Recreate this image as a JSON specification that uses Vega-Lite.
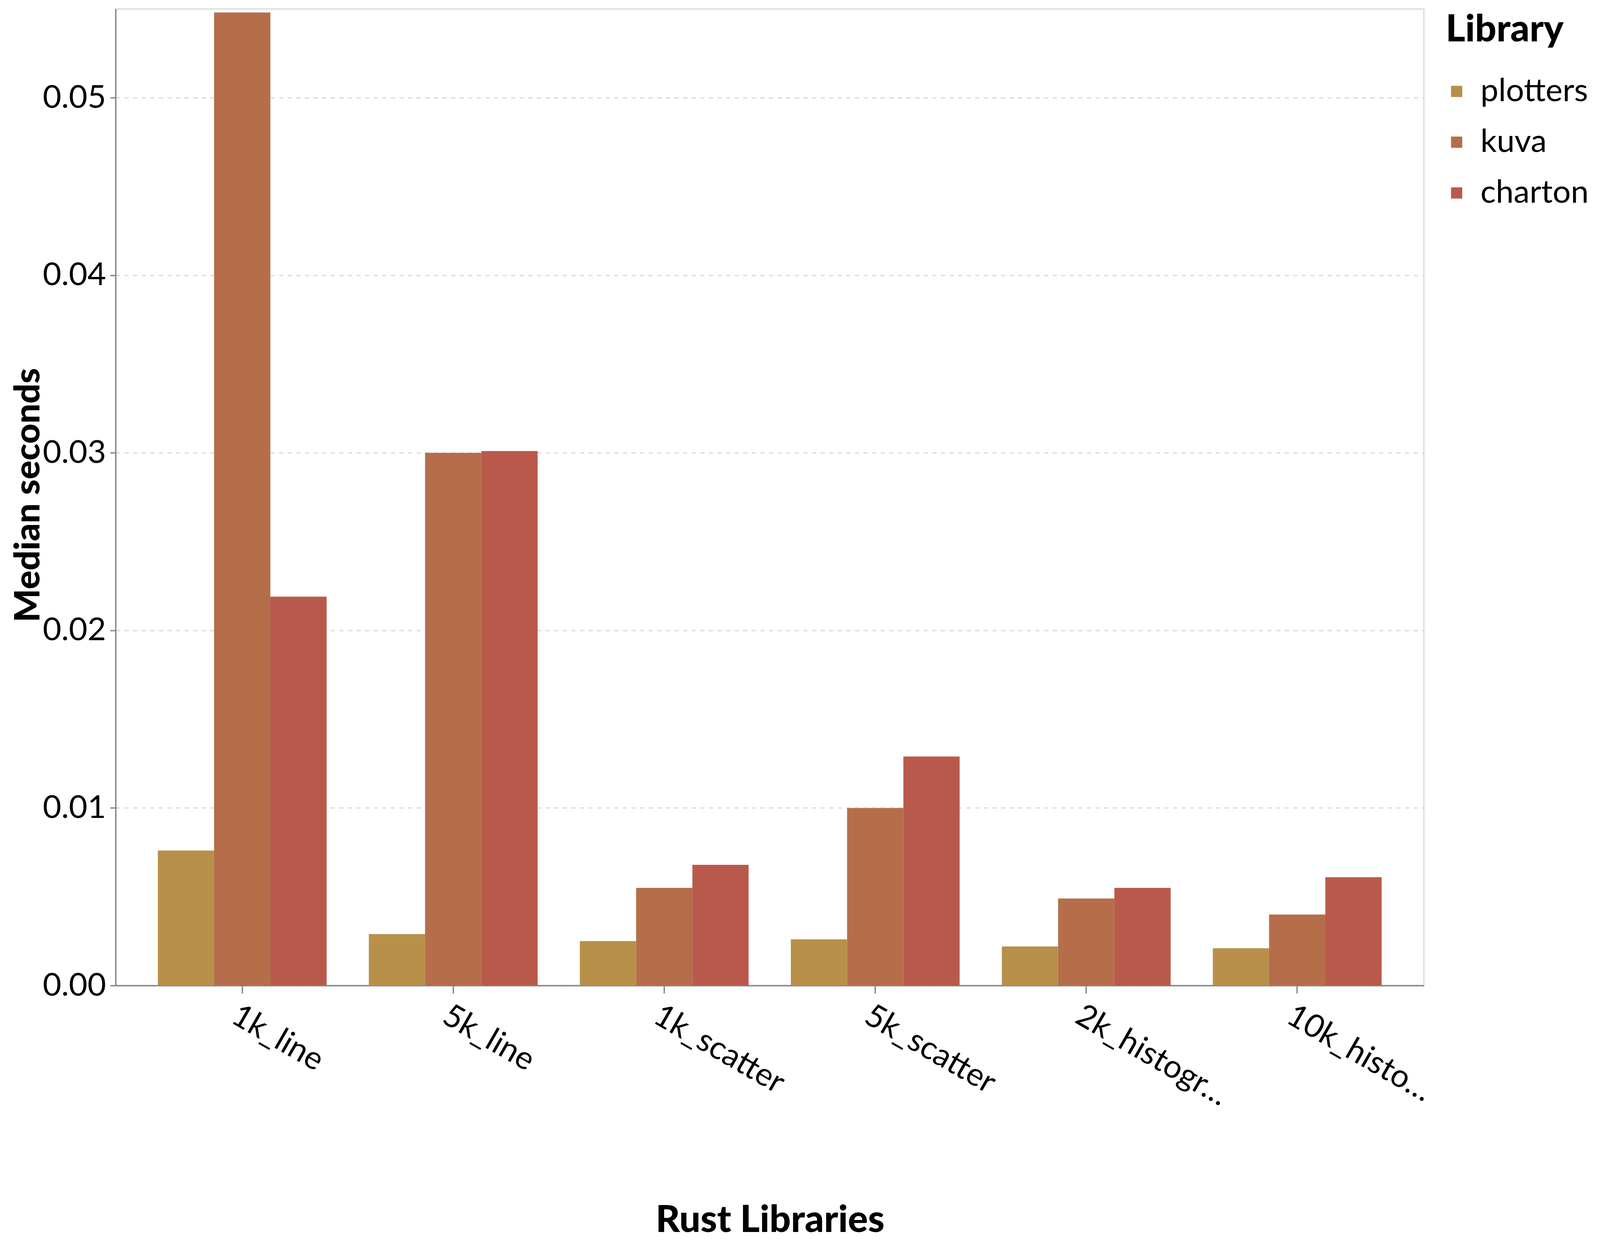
{
  "$schema": "https://vega.github.io/schema/vega-lite/v6.json",
  "autosize": {"type": "none"},
  "padding": {"left": 296, "top": 23, "right": 451, "bottom": 672},
  "width": 3349,
  "height": 2500,
  "background": "white",
  "data": {
    "values": [
      {"benchmark": "1k_line", "library": "plotters", "seconds": 0.0076},
      {"benchmark": "1k_line", "library": "kuva", "seconds": 0.0548},
      {"benchmark": "1k_line", "library": "charton", "seconds": 0.0219},
      {"benchmark": "5k_line", "library": "plotters", "seconds": 0.0029},
      {"benchmark": "5k_line", "library": "kuva", "seconds": 0.0300},
      {"benchmark": "5k_line", "library": "charton", "seconds": 0.0301},
      {"benchmark": "1k_scatter", "library": "plotters", "seconds": 0.0025},
      {"benchmark": "1k_scatter", "library": "kuva", "seconds": 0.0055},
      {"benchmark": "1k_scatter", "library": "charton", "seconds": 0.0068},
      {"benchmark": "5k_scatter", "library": "plotters", "seconds": 0.0026},
      {"benchmark": "5k_scatter", "library": "kuva", "seconds": 0.0100},
      {"benchmark": "5k_scatter", "library": "charton", "seconds": 0.0129},
      {"benchmark": "2k_histogram", "library": "plotters", "seconds": 0.0022},
      {"benchmark": "2k_histogram", "library": "kuva", "seconds": 0.0049},
      {"benchmark": "2k_histogram", "library": "charton", "seconds": 0.0055},
      {"benchmark": "10k_histogram", "library": "plotters", "seconds": 0.0021},
      {"benchmark": "10k_histogram", "library": "kuva", "seconds": 0.0040},
      {"benchmark": "10k_histogram", "library": "charton", "seconds": 0.0061}
    ]
  },
  "mark": {"type": "bar"},
  "encoding": {
    "x": {
      "field": "benchmark",
      "type": "nominal",
      "sort": ["1k_line", "5k_line", "1k_scatter", "5k_scatter", "2k_histogram", "10k_histogram"],
      "title": "Rust Libraries",
      "scale": {"paddingInner": 0.2, "paddingOuter": 0.2},
      "axis": {
        "labelAngle": 30,
        "labelAlign": "left",
        "labelBaseline": "top",
        "labelLimit": 2000,
        "labelPadding": 16,
        "tickSize": 20,
        "labelExpr": "datum.label == '2k_histogram' ? '2k_histogr…' : datum.label == '10k_histogram' ? '10k_histo…' : datum.label",
        "titleFontSize": 96,
        "titleX": 1675,
        "titleY": 630,
        "titleAlign": "center",
        "titleBaseline": "alphabetic",
        "grid": false
      }
    },
    "xOffset": {
      "field": "library",
      "type": "nominal",
      "sort": ["plotters", "kuva", "charton"],
      "scale": {"paddingInner": 0, "paddingOuter": 0}
    },
    "y": {
      "field": "seconds",
      "type": "quantitative",
      "title": "Median seconds",
      "scale": {"domain": [0, 0.055], "nice": false},
      "axis": {
        "values": [0, 0.01, 0.02, 0.03, 0.04, 0.05],
        "format": ".2f",
        "labelLimit": 2000,
        "labelPadding": 11,
        "tickSize": 14,
        "titleFontSize": 90,
        "titleX": -196,
        "titleY": 1244,
        "titleAngle": -90,
        "titleAlign": "center",
        "titleBaseline": "alphabetic",
        "grid": true
      }
    },
    "color": {
      "field": "library",
      "type": "nominal",
      "sort": ["plotters", "kuva", "charton"],
      "scale": {"domain": ["plotters", "kuva", "charton"], "range": ["#b8904a", "#b66d4a", "#b9594b"]},
      "legend": {"title": "Library", "orient": "none", "legendX": 3405, "legendY": 7}
    }
  },
  "config": {
    "font": "Lato",
    "view": {"stroke": "#dddddd", "strokeWidth": 3.5},
    "axis": {
      "labelFont": "Lato",
      "labelFontSize": 82,
      "labelColor": "#000000",
      "titleFont": "Lato",
      "titleFontWeight": 900,
      "titleColor": "#000000",
      "domainColor": "#888888",
      "domainWidth": 3.5,
      "tickColor": "#888888",
      "tickWidth": 3.5,
      "gridColor": "#e0e0e0",
      "gridDash": [11, 11],
      "gridWidth": 4
    },
    "legend": {
      "titleFont": "Lato",
      "titleFontSize": 96,
      "titleFontWeight": 900,
      "titleColor": "#000000",
      "titleBaseline": "top",
      "titleLimit": 1000,
      "labelFont": "Lato",
      "labelFontSize": 82,
      "labelColor": "#000000",
      "labelLimit": 1000,
      "symbolType": "square",
      "symbolSize": 825,
      "symbolStrokeWidth": 0,
      "symbolOffset": -13,
      "rowPadding": 48,
      "labelOffset": 20,
      "padding": 0,
      "titlePadding": 67
    }
  }
}
